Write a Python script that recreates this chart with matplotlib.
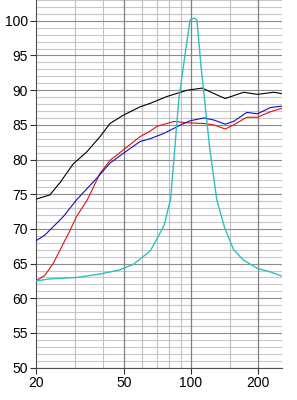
import numpy as np
import matplotlib
matplotlib.use("Agg")
import matplotlib.pyplot as plt
from matplotlib.ticker import NullFormatter

plt.rcParams['font.family'] = ['Liberation Sans', 'DejaVu Sans']

# frequency (Hz) / level (dB)
black_f = [20, 23.1, 25.7, 29.5, 33.9, 38.9, 43.2, 49.6, 59, 65.5, 78.2, 96.4,
           112.6, 131.6, 143, 173, 200, 237, 258]
black_v = [74.3, 74.9, 76.7, 79.4, 81.1, 83.3, 85.2, 86.4, 87.6, 88.1, 89.1, 90.0,
           90.3, 89.3, 88.8, 89.7, 89.4, 89.7, 89.5]

red_f = [20, 21.9, 23.9, 26.1, 28.5, 30.5, 34.1, 38.9, 43.2, 49.6, 59, 65.5,
         70.4, 84.1, 96.4, 114.6, 127, 143, 156, 179, 200, 229, 258]
red_v = [62.5, 63.3, 65.0, 67.4, 69.8, 71.8, 74.2, 78.0, 79.9, 81.4, 83.3, 84.1,
         84.8, 85.5, 85.3, 85.2, 85.0, 84.4, 85.0, 86.1, 86.1, 86.9, 87.4]

blue_f = [20, 21.9, 23.9, 26.6, 30.5, 37.6, 43.2, 49.6, 59, 65.5, 75.9, 89.9,
          99.5, 114.6, 127, 143, 156, 179, 200, 229, 258]
blue_v = [68.3, 69.1, 70.3, 71.8, 74.2, 77.3, 79.5, 80.9, 82.6, 83.0, 83.8, 85.0,
          85.6, 86.0, 85.7, 85.1, 85.5, 86.8, 86.6, 87.5, 87.7]

cyan_f = [20, 23.1, 30.5, 38.9, 47.8, 55.0, 65.5, 70.4, 75.9, 79.4, 81, 88.2,
          94.8, 99.2, 103.6, 106.6, 111.2, 121.9, 131, 141.7, 156, 173, 200, 229, 258]
cyan_v = [62.5, 62.8, 63.0, 63.5, 64.1, 64.9, 66.8, 68.6, 70.6, 73.2, 74.2, 88.6,
          95.8, 100.1, 100.4, 100.1, 93.4, 81.4, 74.2, 70.3, 67.0, 65.5, 64.3, 63.8, 63.2]

x_ticks = [20, 50, 100, 200]
x_minor = [30, 40, 60, 70, 80, 90, 150]
y_ticks = list(range(50, 101, 5))

fig = plt.figure(figsize=(2.97, 4.0), dpi=100)
ax = fig.add_axes([0.1212, 0.0808, 0.8283, 0.9192])
ax.set_xscale('log')
ax.set_xlim(20, 258)
ax.set_ylim(50, 103)

for y in range(50, 104):
    if y % 5 == 0:
        ax.axhline(y, color='#8c8c8c', lw=0.8, zorder=1)
    else:
        ax.axhline(y, color='#c8c8c8', lw=0.8, zorder=0)
for x in x_minor:
    ax.axvline(x, color='#c0c0c0', lw=0.8, zorder=0)
for x in x_ticks[1:]:
    ax.axvline(x, color='#808080', lw=0.9, zorder=1)

ax.plot(black_f, black_v, color='black', lw=0.8, zorder=3)
ax.plot(red_f, red_v, color='#e01010', lw=0.8, zorder=3)
ax.plot(blue_f, blue_v, color='#1010c0', lw=0.8, zorder=3)
ax.plot(cyan_f, cyan_v, color='#30c0c0', lw=1.0, zorder=3)

ax.set_xticks(x_ticks)
ax.set_xticklabels([str(t) for t in x_ticks])
ax.xaxis.set_minor_formatter(NullFormatter())
ax.set_xticks(x_minor, minor=True)
ax.tick_params(axis='x', which='minor', length=0)
ax.set_yticks(y_ticks)
ax.tick_params(axis='both', which='major', labelsize=10, length=4, width=0.8,
               color='#303030', pad=2)

for s in ['top', 'right']:
    ax.spines[s].set_visible(False)
for s in ['left', 'bottom']:
    ax.spines[s].set_color('#505050')
    ax.spines[s].set_linewidth(0.8)

fig.savefig('out.png', dpi=100)
